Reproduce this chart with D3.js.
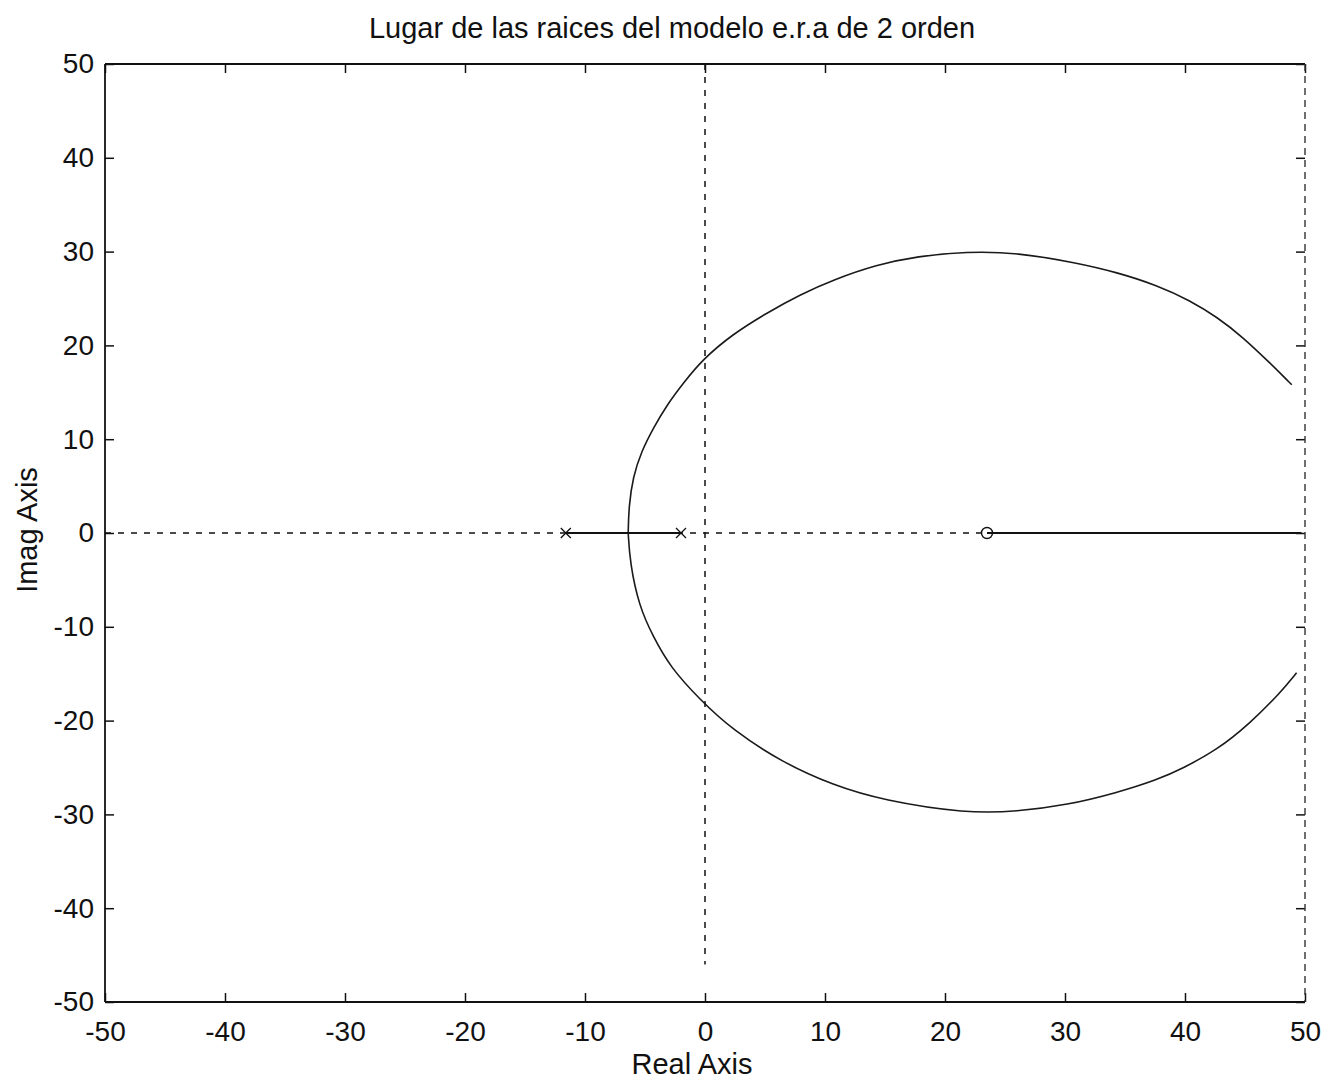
<!DOCTYPE html>
<html>
<head>
<meta charset="utf-8">
<script src="https://cdn.jsdelivr.net/npm/d3@7"></script>
<style>
  body { margin: 0; background: #fff; }
  svg text { font-family: "Liberation Sans", Arial, sans-serif; fill: #111; }
  .axis path { display: none; }
  .axis line { stroke: #111; stroke-width: 1.5; }
</style>
</head>
<body>
<svg id="chart" width="1329" height="1083"></svg>
<script>
// ticks
const x_ticks = [-50, -40, -30, -20, -10, 0, 10, 20, 30, 40, 50];
const y_ticks = [-50, -40, -30, -20, -10, 0, 10, 20, 30, 40, 50];

// open loop poles and zero (real part, imag part 0)
const poles = [-11.6, -2.0];
const zeros = [23.5];

// root locus branches: [real, imag]
const upper_branch = [
  [-6.4, 0], [-6.35, 2.8], [-6.0, 6.0], [-5.3, 8.7], [-4.3, 11.2], [-3.2, 13.6],
  [-1.8, 16.0], [-0.2, 18.5], [2.3, 21.2], [5.2, 23.5], [7.9, 25.4], [10.7, 27.0],
  [14.3, 28.6], [17.7, 29.5], [21.8, 30.0], [26.0, 29.9], [31.0, 28.8], [34.3, 27.8],
  [37.7, 26.4], [40.4, 24.8], [42.7, 23.0], [44.8, 20.9], [47.1, 18.1], [48.9, 15.8]
];
const lower_branch = [
  [-6.4, 0], [-6.25, -3.2], [-5.5, -7.8], [-4.3, -11.1], [-2.9, -14.3], [-0.4, -17.8],
  [2.3, -21.0], [6.5, -24.5], [10.7, -26.9], [14.8, -28.5], [21.8, -29.9], [26.0, -29.7],
  [30.2, -29.0], [34.3, -27.7], [37.7, -26.3], [39.8, -25.1], [42.7, -23.1], [45.4, -20.3],
  [47.9, -17.1], [49.3, -14.9]
];

// solid segments of the locus on the real axis
const real_segments = [[-11.6, -2.0], [23.5, 49.7]];

// dashed guide lines through the origin
const h_guide = [-50, 49.7];
const v_guide = [50, -46];

const svg = d3.select('#chart');
const margin = {top: 64, right: 24, bottom: 81, left: 105};
const width = +svg.attr('width') - margin.left - margin.right;
const height = +svg.attr('height') - margin.top - margin.bottom;

const x = d3.scaleLinear().domain([-50, 50]).range([0, width]);
const y = d3.scaleLinear().domain([-50, 50]).range([height, 0]);

const g = svg.append('g').attr('transform', 'translate(' + margin.left + ',' + margin.top + ')');

const fmt = (d) => String(d);

// axes with inward ticks on all four sides
g.append('g').attr('class', 'axis').attr('transform', 'translate(0,' + height + ')')
  .call(d3.axisBottom(x).tickValues(x_ticks).tickSize(-9).tickPadding(19).tickFormat(fmt))
  .selectAll('text').style('font-size', '28px');
g.append('g').attr('class', 'axis')
  .call(d3.axisTop(x).tickValues(x_ticks).tickSize(-9).tickFormat(''));
g.append('g').attr('class', 'axis')
  .call(d3.axisLeft(y).tickValues(y_ticks).tickSize(-9).tickPadding(11).tickFormat(fmt))
  .selectAll('text').style('font-size', '28px');
g.append('g').attr('class', 'axis').attr('transform', 'translate(' + width + ',0)')
  .call(d3.axisRight(y).tickValues(y_ticks).tickSize(-9).tickFormat(''));

// box
g.append('line').attr('x1', 0).attr('x2', width).attr('y1', 0).attr('y2', 0)
  .attr('stroke', '#111').attr('stroke-width', 2);
g.append('line').attr('x1', 0).attr('x2', width).attr('y1', height).attr('y2', height)
  .attr('stroke', '#111').attr('stroke-width', 2);
g.append('line').attr('x1', 0).attr('x2', 0).attr('y1', 0).attr('y2', height)
  .attr('stroke', '#111').attr('stroke-width', 1.8);
g.append('line').attr('x1', width).attr('x2', width).attr('y1', 0).attr('y2', height)
  .attr('stroke', '#333').attr('stroke-width', 1.4).attr('stroke-dasharray', '7,5');

// dashed guides
g.append('line')
  .attr('x1', x(h_guide[0])).attr('x2', x(h_guide[1])).attr('y1', y(0)).attr('y2', y(0))
  .attr('stroke', '#111').attr('stroke-width', 1.5).attr('stroke-dasharray', '6,7');
g.append('line')
  .attr('x1', x(0)).attr('x2', x(0)).attr('y1', y(v_guide[0])).attr('y2', y(v_guide[1]))
  .attr('stroke', '#111').attr('stroke-width', 1.5).attr('stroke-dasharray', '6,7');

// locus
const line = d3.line().x(function(d) { return x(d[0]); }).y(function(d) { return y(d[1]); })
  .curve(d3.curveBasis);

[upper_branch, lower_branch].forEach((branch) => {
  g.append('path')
    .data([branch])
    .attr('fill', 'none')
    .attr('stroke', '#1a1a1a')
    .attr('stroke-width', 1.6)
    .attr('stroke-linejoin', 'round')
    .attr('d', line);
});

real_segments.forEach((s) => {
  g.append('line')
    .attr('x1', x(s[0])).attr('x2', x(s[1])).attr('y1', y(0)).attr('y2', y(0))
    .attr('stroke', '#111').attr('stroke-width', 2);
});

// pole markers
poles.forEach((p) => {
  const cx = x(p), cy = y(0), r = 5;
  g.append('path')
    .attr('d', `M${cx - r},${cy - r}L${cx + r},${cy + r}M${cx - r},${cy + r}L${cx + r},${cy - r}`)
    .attr('stroke', '#111').attr('stroke-width', 1.3).attr('fill', 'none');
});

// zero markers
zeros.forEach((z) => {
  g.append('circle')
    .attr('cx', x(z)).attr('cy', y(0)).attr('r', 5.5)
    .attr('fill', 'none').attr('stroke', '#111').attr('stroke-width', 1.4);
});

// titles
svg.append('text')
  .attr('x', 672).attr('y', 38)
  .style('text-anchor', 'middle').style('font-size', '29px')
  .text('Lugar de las raices del modelo e.r.a de 2 orden');

svg.append('text')
  .attr('x', 692).attr('y', 1074)
  .style('text-anchor', 'middle').style('font-size', '29px')
  .text('Real Axis');

svg.append('text')
  .attr('transform', 'translate(37,530) rotate(-90)')
  .style('text-anchor', 'middle').style('font-size', '29px')
  .text('Imag Axis');
</script>
</body>
</html>
